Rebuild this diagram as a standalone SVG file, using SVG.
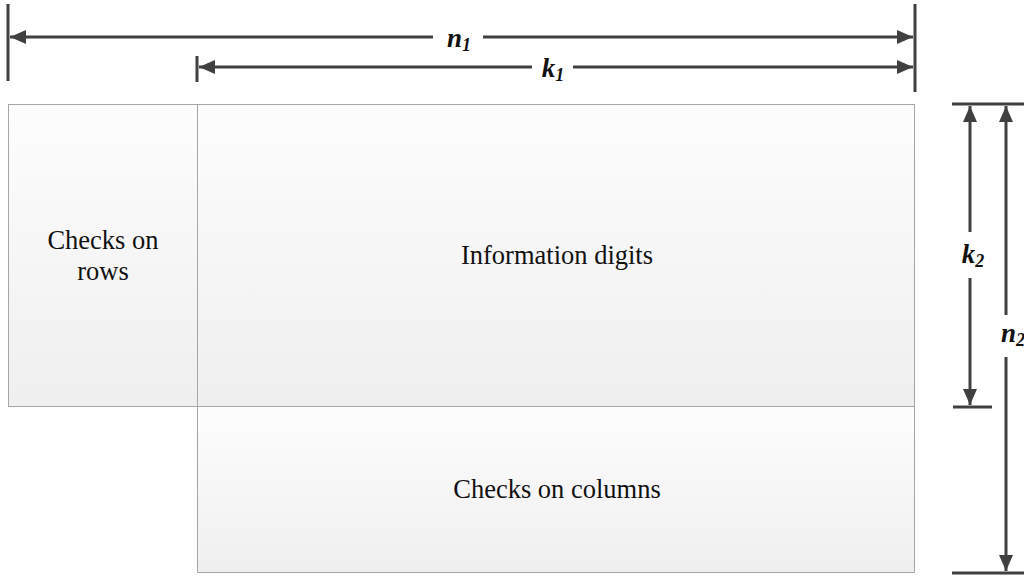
<svg xmlns="http://www.w3.org/2000/svg" width="1024" height="577" viewBox="0 0 1024 577">
  <style>
    .box { stroke: #a6a6a6; stroke-width: 1; fill: url(#boxFill); }
    .label { font-family: "Liberation Serif", "Times New Roman", serif; font-size: 26.5px; fill: #111; text-anchor: middle; }
    .dim { stroke: #404040; stroke-width: 3; fill: none; }
    .dimtxt { font-family: "Liberation Serif", "Times New Roman", serif; font-size: 27px; font-weight: bold; font-style: italic; fill: #111; text-anchor: middle; }
    .sub { font-size: 18px; }
  </style>
  <defs>
    <linearGradient id="boxFill" x1="0" y1="0" x2="0" y2="1">
      <stop offset="0" stop-color="#fdfdfd"/>
      <stop offset="1" stop-color="#efefef"/>
    </linearGradient>
    <marker id="arrow" viewBox="0 0 16 14" refX="16" refY="7" markerWidth="16" markerHeight="14" markerUnits="userSpaceOnUse" orient="auto-start-reverse">
      <path d="M0,0 L16,7 L0,14 Z" fill="#404040"/>
    </marker>
  </defs>

  <g id="checks-rows">
    <rect class="box" x="8.5" y="104.5" width="189" height="302"/>
    <text class="label" x="103" y="249">Checks on</text>
    <text class="label" x="103" y="280">rows</text>
  </g>
  <g id="information-digits">
    <rect class="box" x="197.5" y="104.5" width="717" height="302"/>
    <text class="label" x="557" y="264">Information digits</text>
  </g>
  <g id="checks-columns">
    <rect class="box" x="197.5" y="406.5" width="717" height="166"/>
    <text class="label" x="557" y="498">Checks on columns</text>
  </g>

  <g id="connectors">
    <!-- extension ticks -->
    <line class="dim" x1="8" y1="4" x2="8" y2="81"/>
    <line class="dim" x1="915" y1="4" x2="915" y2="92"/>
    <line class="dim" x1="197" y1="56" x2="197" y2="82"/>
    <line class="dim" x1="952" y1="104" x2="1024" y2="104"/>
    <line class="dim" x1="953" y1="407" x2="992" y2="407"/>
    <line class="dim" x1="952" y1="573" x2="1024" y2="573"/>

    <!-- n1 -->
    <line class="dim" x1="10" y1="37" x2="433" y2="37" marker-start="url(#arrow)"/>
    <line class="dim" x1="483" y1="37" x2="913" y2="37" marker-end="url(#arrow)"/>
    <!-- k1 -->
    <line class="dim" x1="199" y1="67" x2="532" y2="67" marker-start="url(#arrow)"/>
    <line class="dim" x1="573" y1="67" x2="913" y2="67" marker-end="url(#arrow)"/>
    <!-- k2 -->
    <line class="dim" x1="970" y1="106" x2="970" y2="232" marker-start="url(#arrow)"/>
    <line class="dim" x1="970" y1="278" x2="970" y2="405" marker-end="url(#arrow)"/>
    <!-- n2 -->
    <line class="dim" x1="1006" y1="106" x2="1006" y2="315" marker-start="url(#arrow)"/>
    <line class="dim" x1="1006" y1="357" x2="1006" y2="571" marker-end="url(#arrow)"/>
  </g>

  <g id="dimension-labels">
    <text class="dimtxt" x="459" y="47">n<tspan class="sub" dy="4">1</tspan></text>
    <text class="dimtxt" x="553" y="77">k<tspan class="sub" dy="4">1</tspan></text>
    <text class="dimtxt" x="973" y="263">k<tspan class="sub" dy="4">2</tspan></text>
    <text class="dimtxt" x="1013" y="342">n<tspan class="sub" dy="4">2</tspan></text>
  </g>
</svg>
